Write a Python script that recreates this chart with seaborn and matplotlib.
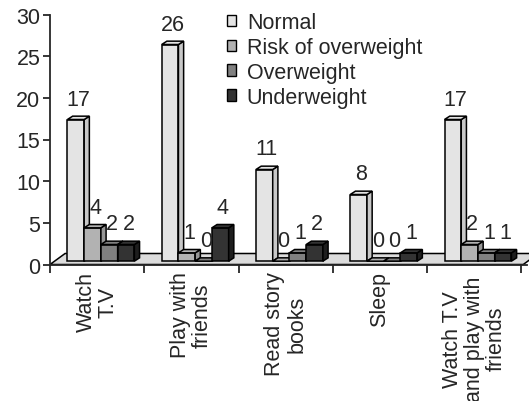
import matplotlib
matplotlib.use("Agg")
import matplotlib.pyplot as plt
import matplotlib.transforms as mtransforms
import pandas as pd
import seaborn as sns
from matplotlib.patches import Polygon, Patch

# Datos del grafico
activities = ["Watch\nT.V", "Play with\nfriends", "Read story\nbooks", "Sleep",
              "Watch T.V\nand play with\nfriends"]
categories = ["Normal", "Risk of overweight", "Overweight", "Underweight"]
normal = [17, 26, 11, 8, 17]
risk_overweight = [4, 1, 0, 0, 2]
overweight = [2, 0, 1, 0, 1]
underweight = [2, 4, 2, 1, 1]

front_colors = ["#e4e4e4", "#b2b2b2", "#808080", "#333333"]
side_colors = ["#c8c8c8", "#969696", "#666666", "#1e1e1e"]

series = [normal, risk_overweight, overweight, underweight]
rows = []
for cat, vals in zip(categories, series):
    for act, v in zip(activities, vals):
        rows.append({"activity": act, "category": cat, "count": v})
df = pd.DataFrame(rows)

sns.set_style("white")
plt.rcParams["font.family"] = ["Liberation Sans", "DejaVu Sans"]
fs = 15.5

fig = plt.figure(figsize=(5.29, 4.02), dpi=100)
ax = fig.add_axes([50 / 529, (402 - 265.5) / 402, (527 - 50) / 529, 250 / 402])

sns.barplot(data=df, x="activity", y="count", hue="category", order=activities,
            hue_order=categories, palette=front_colors, width=0.71, dodge=True,
            edgecolor="black", linewidth=1.1, legend=False, ax=ax, zorder=3)

ax.set_xlim(-0.5, 4.56)
ax.set_ylim(0, 30)

# Profundidad del efecto 3D (en unidades de datos)
floor_dx, floor_dy = 0.16, 1.32
bar_sx, bar_sy = 0.04, 0.4
dx, dy = 0.055, 0.4

# Piso
x_left, x_right = -0.5, 4.52
floor = Polygon([(x_left, 0), (x_right, 0), (x_right + floor_dx, floor_dy),
                 (x_left + floor_dx, floor_dy)], closed=True, facecolor="#dcdcdc",
                edgecolor="black", linewidth=1.1, zorder=1, clip_on=False)
ax.add_patch(floor)

# Caras superiores y laterales de las barras
patches = sorted(ax.patches[:-1], key=lambda p: p.get_x())
for i, p in enumerate(patches):
    hex_face = matplotlib.colors.to_hex(p.get_facecolor())
    k = front_colors.index(hex_face) if hex_face in front_colors else 0
    p.set_x(p.get_x() + bar_sx)
    p.set_y(p.get_y() + bar_sy)
    z = 3 + i * 0.01
    p.set_zorder(z)
    x0 = p.get_x()
    x1 = x0 + p.get_width()
    b = p.get_y()
    h = b + p.get_height()
    top = Polygon([(x0, h), (x1, h), (x1 + dx, h + dy), (x0 + dx, h + dy)],
                  closed=True, facecolor=front_colors[k], edgecolor="black",
                  linewidth=1.1, zorder=z, clip_on=False)
    side = Polygon([(x1, b), (x1 + dx, b + dy), (x1 + dx, h + dy), (x1, h)],
                   closed=True, facecolor=side_colors[k], edgecolor="black",
                   linewidth=1.1, zorder=z, clip_on=False)
    ax.add_patch(side)
    ax.add_patch(top)
    ax.text((x0 + x1 + dx) / 2, h + dy + 0.8, "%d" % round(p.get_height()),
            ha="center", va="bottom", fontsize=fs, zorder=10)

# Ejes
for s in ["top", "right"]:
    ax.spines[s].set_visible(False)
ax.spines["left"].set_linewidth(1.3)
ax.spines["bottom"].set_linewidth(1.3)
ax.spines["left"].set_zorder(20)
ax.spines["bottom"].set_zorder(20)

ax.set_yticks(range(0, 31, 5))
ax.tick_params(axis="y", direction="out", length=5, width=1.3, pad=2, labelsize=fs,
               left=True)
ax.set_xticks(range(5))
ax.set_xticklabels(activities, rotation=90, fontsize=fs, linespacing=1.05,
                   multialignment="center")
ax.set_xticks([x - 0.5 for x in range(6)], minor=True)
ax.tick_params(axis="x", which="major", length=0, pad=5)
ax.tick_params(axis="x", which="minor", direction="out", length=6, width=1.3,
               bottom=True)
ax.set_xlabel("")
ax.set_ylabel("")

# La ultima etiqueta queda un poco mas abajo (sin salirse de la imagen)
last = ax.get_xticklabels()[-1]
last.set_transform(last.get_transform() +
                   mtransforms.ScaledTranslation(0, -0.04, fig.dpi_scale_trans))

# Leyenda
handles = [Patch(facecolor=c, edgecolor="black", linewidth=1.0) for c in front_colors]
fig.legend(handles, categories, loc="upper left", bbox_to_anchor=(227 / 529, 1 - 13 / 402),
           frameon=False, fontsize=fs, handlelength=0.42, handleheight=0.42,
           handletextpad=0.5, labelspacing=0.18, borderaxespad=0, borderpad=0)

fig.savefig("out.png", dpi=100)
